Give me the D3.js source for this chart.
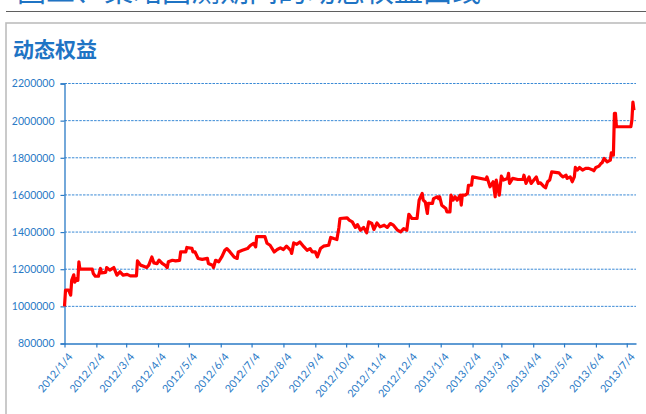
<!DOCTYPE html>
<html><head><meta charset="utf-8">
<script src="https://cdn.jsdelivr.net/npm/d3@7"></script>
<style>
html,body{margin:0;padding:0;background:#fff;overflow:hidden;}
svg{display:block;}
</style></head>
<body>
<svg id="chart" width="646" height="414"></svg>
<script>
// ---- data ----
const pageTitle = "图二、策略回测期间的动态权益曲线";
const chartTitle = "动态权益";
const tickDates = ["2012-01-04","2012-02-04","2012-03-04","2012-04-04","2012-05-04","2012-06-04","2012-07-04","2012-08-04","2012-09-04","2012-10-04","2012-11-04","2012-12-04","2013-01-04","2013-02-04","2013-03-04","2013-04-04","2013-05-04","2013-06-04","2013-07-04"];
const tickLabels = ["2012/1/4","2012/2/4","2012/3/4","2012/4/4","2012/5/4","2012/6/4","2012/7/4","2012/8/4","2012/9/4","2012/10/4","2012/11/4","2012/12/4","2013/1/4","2013/2/4","2013/3/4","2013/4/4","2013/5/4","2013/6/4","2013/7/4"];
const yTicks = [800000,1000000,1200000,1400000,1600000,1800000,2000000,2200000];
const dateRange = ["2012-01-04","2013-07-13"];
const dates = [
"2012-01-04","2012-01-05","2012-01-08","2012-01-10","2012-01-11","2012-01-13","2012-01-14","2012-01-16","2012-01-17","2012-01-18",
"2012-01-19","2012-01-31","2012-02-01","2012-02-03","2012-02-06","2012-02-08","2012-02-09","2012-02-13","2012-02-14","2012-02-17",
"2012-02-21","2012-02-22","2012-02-24","2012-02-27","2012-03-01","2012-03-05","2012-03-08","2012-03-14","2012-03-15","2012-03-18",
"2012-03-21","2012-03-24","2012-03-26","2012-03-29","2012-03-31","2012-04-03","2012-04-05","2012-04-08","2012-04-11","2012-04-13",
"2012-04-14","2012-04-18","2012-04-21","2012-04-25","2012-04-26","2012-05-01","2012-05-02","2012-05-07","2012-05-08","2012-05-10",
"2012-05-13","2012-05-17","2012-05-22","2012-05-23","2012-05-27","2012-05-28","2012-05-30","2012-06-02","2012-06-05","2012-06-08",
"2012-06-10","2012-06-13","2012-06-17","2012-06-20","2012-06-21","2012-06-25","2012-06-30","2012-07-03","2012-07-06","2012-07-08",
"2012-07-09","2012-07-17","2012-07-19","2012-07-22","2012-07-26","2012-07-29","2012-08-01","2012-08-04","2012-08-07","2012-08-11",
"2012-08-12","2012-08-14","2012-08-17","2012-08-20","2012-08-24","2012-08-27","2012-08-30","2012-09-01","2012-09-04","2012-09-06",
"2012-09-09","2012-09-12","2012-09-17","2012-09-19","2012-09-22","2012-09-25","2012-09-27","2012-09-28","2012-10-05","2012-10-07",
"2012-10-10","2012-10-13","2012-10-15","2012-10-18","2012-10-21","2012-10-24","2012-10-26","2012-10-29","2012-10-31","2012-11-03",
"2012-11-06","2012-11-10","2012-11-13","2012-11-16","2012-11-19","2012-11-23","2012-11-26","2012-11-29","2012-12-02","2012-12-04",
"2012-12-07","2012-12-12","2012-12-14","2012-12-17","2012-12-18","2012-12-20","2012-12-22","2012-12-23","2012-12-27","2012-12-28",
"2013-01-01","2013-01-02","2013-01-03","2013-01-05","2013-01-09","2013-01-10","2013-01-13","2013-01-14","2013-01-16","2013-01-18",
"2013-01-20","2013-01-23","2013-01-24","2013-01-25","2013-01-28","2013-01-30","2013-01-31","2013-02-03","2013-02-04","2013-02-17",
"2013-02-18","2013-02-20","2013-02-21","2013-02-24","2013-02-26","2013-02-27","2013-03-01","2013-03-02","2013-03-04","2013-03-06",
"2013-03-10","2013-03-11","2013-03-12","2013-03-15","2013-03-20","2013-03-25","2013-03-26","2013-03-28","2013-03-31","2013-04-02",
"2013-04-05","2013-04-07","2013-04-09","2013-04-11","2013-04-14","2013-04-16","2013-04-18","2013-04-20","2013-04-22","2013-04-29",
"2013-05-01","2013-05-03","2013-05-06","2013-05-07","2013-05-10","2013-05-12","2013-05-14","2013-05-15","2013-05-17","2013-05-19",
"2013-05-22","2013-05-25","2013-05-28","2013-06-01","2013-06-02","2013-06-04","2013-06-07","2013-06-09","2013-06-10","2013-06-12",
"2013-06-15","2013-06-18","2013-06-19","2013-06-20","2013-06-21","2013-06-22","2013-06-23","2013-06-24","2013-07-08","2013-07-09",
"2013-07-10","2013-07-11"
];
const equity = [
1000000,1087000,1087000,1060000,1140000,1170000,1130000,1150000,1140000,1240000,
1200000,1200000,1177000,1162000,1162000,1204000,1180000,1183000,1209000,1195000,
1209000,1195000,1168000,1186000,1168000,1172000,1164000,1164000,1245000,1222000,
1216000,1209000,1222000,1266000,1234000,1230000,1249000,1231000,1221000,1209000,
1240000,1248000,1245000,1248000,1293000,1293000,1317000,1312000,1293000,1293000,
1258000,1253000,1258000,1231000,1221000,1209000,1248000,1240000,1266000,1302000,
1311000,1293000,1266000,1258000,1293000,1302000,1311000,1329000,1339000,1320000,
1375000,1375000,1340000,1329000,1293000,1306000,1315000,1306000,1324000,1302000,
1285000,1342000,1334000,1347000,1320000,1302000,1311000,1293000,1293000,1266000,
1311000,1324000,1329000,1371000,1365000,1360000,1425000,1473000,1476000,1464000,
1455000,1425000,1440000,1410000,1425000,1396000,1455000,1446000,1414000,1449000,
1428000,1437000,1425000,1446000,1437000,1410000,1401000,1419000,1410000,1496000,
1473000,1473000,1572000,1608000,1572000,1562000,1500000,1554000,1554000,1580000,
1590000,1580000,1590000,1545000,1527000,1509000,1509000,1599000,1572000,1590000,
1572000,1599000,1545000,1599000,1599000,1608000,1652000,1652000,1697000,1683000,
1697000,1662000,1644000,1671000,1590000,1680000,1626000,1599000,1701000,1680000,
1689000,1716000,1662000,1689000,1683000,1683000,1706000,1662000,1697000,1662000,
1683000,1697000,1662000,1665000,1647000,1638000,1671000,1680000,1724000,1719000,
1706000,1697000,1706000,1689000,1697000,1671000,1697000,1748000,1734000,1748000,
1734000,1743000,1743000,1734000,1730000,1748000,1755000,1770000,1773000,1796000,
1778000,1787000,1827000,1814000,1814000,2039000,2039000,1967000,1967000,2002000,
2100000,2056000
];

// ---- drawing ----
const parse = d3.timeParse("%Y-%m-%d");
const svg = d3.select("#chart");
const blue = "#2a7ac6";
const m = {left:64.5, right:636, top:83.5, bottom:343.5};

// page header pieces (title of the page is cut by the top edge in the reference)
svg.append("text").attr("x",17).attr("y",1.5)
  .attr("font-family","'Noto Sans CJK SC'").attr("font-size",29)
  .attr("fill","#1f74c4").text(pageTitle);
svg.append("line").attr("x1",6).attr("x2",646).attr("y1",11.5).attr("y2",11.5)
  .attr("stroke","#5f5f5f").attr("stroke-width",1.2);
svg.append("rect").attr("x",6).attr("y",23).attr("width",700).attr("height",420)
  .attr("fill","#fff").attr("stroke","#bdbdbd").attr("stroke-width",1.6);

svg.append("text").attr("x",13).attr("y",57)
  .attr("font-family","'Noto Sans CJK SC'").attr("font-weight","bold").attr("font-size",21)
  .attr("fill","#1f74c4").text(chartTitle);

const x = d3.scaleTime().domain(dateRange.map(parse)).range([m.left, m.right]);
const y = d3.scaleLinear().domain([800000,2200000]).range([m.bottom, m.top]);

// gridlines
svg.append("g").selectAll("line").data(yTicks.filter(v=>v>800000)).join("line")
  .attr("x1",m.left).attr("x2",m.right)
  .attr("y1",d=>y(d)).attr("y2",d=>y(d))
  .attr("stroke","#3a8ad6").attr("stroke-width",1).attr("stroke-dasharray","2.5,1.2");

// y axis
const yAxis = svg.append("g").attr("transform",`translate(${m.left},0)`)
  .call(d3.axisLeft(y).tickValues(yTicks).tickFormat(d3.format("d")).tickSize(4).tickPadding(6));
yAxis.select(".domain").attr("stroke",blue).attr("stroke-width",1.3);
yAxis.selectAll(".tick line").attr("stroke",blue).attr("stroke-width",1.2);
yAxis.selectAll("text").attr("fill",blue).attr("font-family","Lato").attr("font-size",10.5);

// x axis
const xAxis = svg.append("g").attr("transform",`translate(0,${m.bottom})`)
  .call(d3.axisBottom(x).tickValues(tickDates.map(parse))
     .tickFormat((d,i)=>tickLabels[i]).tickSize(4).tickSizeOuter(0));
xAxis.select(".domain").attr("stroke",blue).attr("stroke-width",1.3);
xAxis.selectAll(".tick line").attr("stroke",blue).attr("stroke-width",1.2);
xAxis.selectAll("text").attr("fill",blue).attr("font-family","Lato").attr("font-size",10.8)
  .attr("text-anchor","end").attr("dx",0).attr("dy",0)
  .attr("transform","translate(3,9) rotate(-50)");

// line
const pts = dates.map((d,i)=>({d:parse(d), v:equity[i]}));
svg.append("path").datum(pts)
  .attr("fill","none").attr("stroke","#ff0000").attr("stroke-width",3.2)
  .attr("stroke-linejoin","round").attr("stroke-linecap","butt")
  .attr("d", d3.line().x(p=>x(p.d)).y(p=>y(p.v)));
</script>
</body></html>
